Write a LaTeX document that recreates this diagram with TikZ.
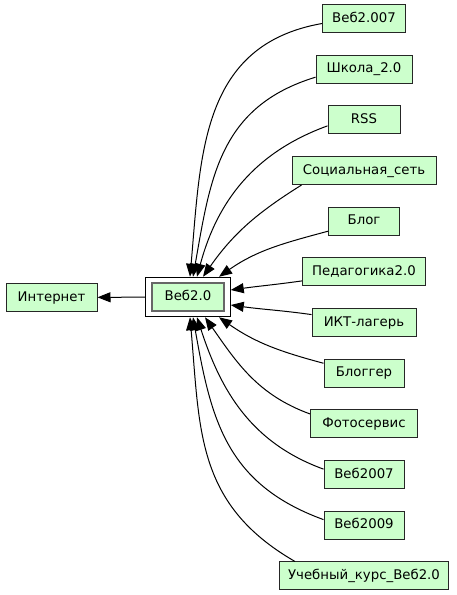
\documentclass[tikz,border=0pt]{standalone}
\usepackage{fontspec}
\setmainfont{DejaVu Sans}
\usetikzlibrary{arrows.meta,fit}
\definecolor{verdclar}{RGB}{204,255,204}
\begin{document}
\begin{tikzpicture}[x=1pt,y=-1pt,
		caixa/.style={draw=black!85,line width=1pt,fill=verdclar,minimum height=28pt,inner sep=0pt,
			text height=10pt,text depth=3pt,font=\fontsize{13.3}{16}\selectfont},
		fletxa/.style={-{Triangle[length=13pt,width=10pt]},line width=1pt}]
		\useasboundingbox (0,0) rectangle (456,595);
		
		% node central
		\node[caixa,minimum width=72pt,draw=black!60,line width=1.5pt] (webin) at (188,297) {Веб2.0};
		\node[draw,line width=1pt,fit=(webin),inner xsep=5.5pt,inner ysep=5pt] (web) {};
		\node[caixa,minimum width=91pt] (inet) at (51.5,297.5) {Интернет};
		\draw[fletxa] (web) -- (inet);
		
		% pàgines que hi enllacen
		\foreach \nom/\txt/\w [count=\i from 0] in {b007/Веб2.007/83, shkola/Школа\_2.0/96,
			rss/RSS/72, soc/Социальная\_сеть/144, blog/Блог/71, ped/Педагогика2.0/123,
			ikt/ИКТ-лагерь/104, blogger/Блоггер/80, foto/Фотосервис/107, v2007/Веб2007/80,
			v2009/Веб2009/80, ucheb/Учебный\_курс\_Веб2.0/169}
		\node[caixa,minimum width=\w pt] (\nom) at (364,18.5+50.68*\i) {\txt};
		
		% enllaços per dalt
		\draw[fletxa] ([yshift=-5pt]b007.west) to[out=190,in=85,looseness=1.1] ([xshift=2pt]web.north);
		\draw[fletxa] ([yshift=-8pt]shkola.west) to[out=197,in=80,looseness=1.1] ([xshift=5pt]web.north);
		\draw[fletxa] ([yshift=-6pt]rss.west) to[out=200,in=75] ([xshift=9pt]web.north);
		\draw[fletxa] ([xshift=10pt]soc.south west) to[out=212,in=55] ([xshift=15pt]web.north);
		\draw[fletxa] ([yshift=-10pt]blog.west) to[out=195,in=35] ([xshift=31pt]web.north);
		
		% enllaços pel costat
		\draw[fletxa] ([yshift=-9pt]ped.west) to[out=188,in=8] ([yshift=7pt]web.east);
		\draw[fletxa] ([yshift=8pt]ikt.west) to[out=172,in=-8] ([yshift=-8pt]web.east);
		
		% enllaços per baix
		\draw[fletxa] ([yshift=10pt]blogger.west) to[out=165,in=-35] ([xshift=31pt]web.south);
		\draw[fletxa] ([yshift=10pt]foto.west) to[out=160,in=-55] ([xshift=17pt]web.south);
		\draw[fletxa] ([yshift=5.5pt]v2007.west) to[out=160,in=-72] ([xshift=9pt]web.south);
		\draw[fletxa] ([yshift=5.7pt]v2009.west) to[out=160,in=-80,looseness=1.1] ([xshift=5pt]web.south);
		\draw[fletxa] ([xshift=16pt]ucheb.north west) to[out=150,in=-85,looseness=1.1] ([xshift=2pt]web.south);
	\end{tikzpicture}
\end{document}
